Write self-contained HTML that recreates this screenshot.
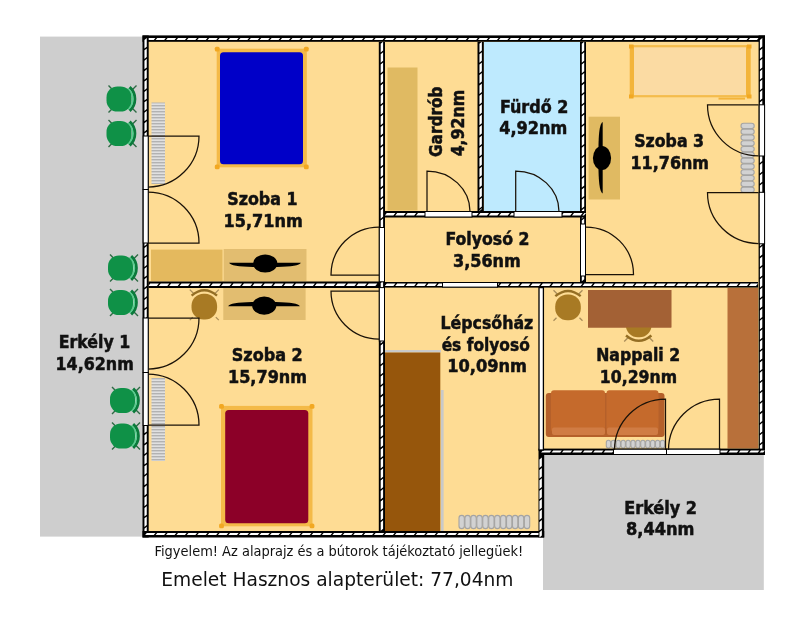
<!DOCTYPE html>
<html lang="hu"><head><meta charset="utf-8"><title>Emelet alaprajz</title>
<style>
html,body{margin:0;padding:0;background:#fff;}
body{width:800px;height:631px;overflow:hidden;}
svg{display:block;will-change:transform;}
.b{font-family:"DejaVu Sans Condensed","DejaVu Sans","Liberation Sans",sans-serif;font-weight:bold;font-size:17.9px;fill:#111;stroke:#111;stroke-width:0.5px;text-anchor:middle;}
.n{font-family:"DejaVu Sans Condensed","DejaVu Sans","Liberation Sans",sans-serif;fill:#111;}
.n2{font-family:"DejaVu Sans","Liberation Sans",sans-serif;fill:#111;}
.d{fill:none;stroke:#1a1208;stroke-width:1.25;}
</style></head><body>
<svg width="800" height="631" viewBox="0 0 800 631">
<defs>

<pattern id="rs" width="14" height="3" patternUnits="userSpaceOnUse"><rect width="14" height="3" fill="#e0e0e0"/><rect y="0" width="14" height="1.4" fill="#b2b2b2"/></pattern>
<g id="chair"><path d="M-10.5 -13.5 l3.2 3.2 M-10.5 13.5 l3.2 -3.2 M17.5 -13.5 l-4.5 4.5 M17.5 13.5 l-4.5 -4.5" stroke="#2f6a45" stroke-width="1.4" fill="none"/><path d="M10.6 -11.8 A15.9 15.9 0 0 1 10.6 11.8" stroke="#0b7a3b" stroke-width="3" fill="none"/><path d="M9 -10.5 A13.8 13.8 0 0 1 9 10.5" stroke="#56cf8e" stroke-width="1.6" fill="none"/><rect x="-12.5" y="-12.6" width="25" height="25.2" rx="11" fill="#0f9147"/></g>
<g id="bchair"><path d="M-14.5 -17 l4 4 M14.5 -17 l-4 4 M-11.5 10.5 l-3 3 M11.5 10.5 l3 3" stroke="#a98d5a" stroke-width="1.3" fill="none"/><path d="M-12.7 -11 Q0 -21.5 12.7 -11" stroke="#946e24" stroke-width="2.4" fill="none"/><rect x="-12.8" y="-12.8" width="25.6" height="25.8" rx="12" fill="#a87a24"/></g>
<g id="tv"><path d="M-35.8 -0.7 L35.8 -0.7 Q34 3.2 12 3.5 L-12 3.5 Q-34 3.2 -35.8 -0.7Z" fill="#000"/><ellipse cx="0.2" cy="0" rx="12.1" ry="9.1" fill="#000"/></g>
</defs>
<rect width="800" height="631" fill="#fff"/>
<rect x="40" y="36.6" width="104" height="500" fill="#CECECE"/>
<rect x="543" y="454" width="220.8" height="136" fill="#CECECE"/>
<rect x="146" y="39" width="615" height="413" fill="#FEDC94"/>
<rect x="146" y="440" width="395" height="94" fill="#FEDC94"/>
<rect x="484" y="42" width="96" height="169" fill="#BEEAFE"/>
<rect x="151.5" y="102.5" width="13.5" height="81.5" fill="url(#rs)" />
<rect x="151.5" y="378" width="13.5" height="83" fill="url(#rs)" />
<rect x="151" y="249.6" width="71.5" height="31.4" fill="#E4B95E" />
<rect x="223.7" y="249" width="82.8" height="32" fill="#E2BD70" />
<rect x="223.3" y="288" width="82.3" height="32" fill="#E2BD70" />
<rect x="387.5" y="67.5" width="30.0" height="143.0" fill="#E0BA62" />
<rect x="588.6" y="116.7" width="31.4" height="82.8" fill="#E0BA62" />
<use href="#tv" x="0" y="0" transform="translate(265 263.5)"/>
<use href="#tv" transform="translate(264 305.6) scale(1 -1)"/>
<use href="#tv" transform="translate(602 157.8) rotate(90)"/>
<rect x="216.7" y="48.7" width="90.1" height="118.6" fill="#F4BA48"/>
<rect x="214.8" y="46.8" width="4.8" height="4.8" rx="1.5" fill="#F2A822"/>
<rect x="303.9" y="46.8" width="4.8" height="4.8" rx="1.5" fill="#F2A822"/>
<rect x="214.8" y="164.4" width="4.8" height="4.8" rx="1.5" fill="#F2A822"/>
<rect x="303.9" y="164.4" width="4.8" height="4.8" rx="1.5" fill="#F2A822"/>
<rect x="220" y="52.2" width="83" height="112.1" rx="3.5" fill="#0000C8"/>
<rect x="221.0" y="405.9" width="91.5" height="120.4" fill="#F4BA48"/>
<rect x="219.1" y="404.0" width="4.8" height="4.8" rx="1.5" fill="#F2A822"/>
<rect x="309.6" y="404.0" width="4.8" height="4.8" rx="1.5" fill="#F2A822"/>
<rect x="219.1" y="523.4" width="4.8" height="4.8" rx="1.5" fill="#F2A822"/>
<rect x="309.6" y="523.4" width="4.8" height="4.8" rx="1.5" fill="#F2A822"/>
<rect x="225.2" y="410" width="83.1" height="113.2" rx="3.5" fill="#8C0028"/>
<rect x="631" y="46.2" width="118.5" height="50" fill="#FBDBA3" stroke="#F4BC4C" stroke-width="2.2"/>
<rect x="629.8" y="45.2" width="4.2" height="52" fill="#F3B43A"/><rect x="746" y="45.2" width="4.4" height="52" fill="#F3B43A"/>
<rect x="629" y="44.5" width="4.5" height="4" fill="#F2A822"/><rect x="747" y="44.5" width="4.5" height="4" fill="#F2A822"/><rect x="629" y="94.5" width="4.5" height="4" fill="#F2A822"/><rect x="747" y="94.5" width="4.5" height="4" fill="#F2A822"/>
<rect x="718.5" y="97.6" width="26.5" height="2" fill="#F3B43A"/>
<rect x="385" y="350" width="56" height="2.5" fill="#C9C9C9" />
<rect x="441" y="390" width="2.6" height="141" fill="#C9C9C9" />
<rect x="385" y="352.5" width="55.3" height="178.5" fill="#96560C" />
<rect x="588" y="290" width="83.3" height="37.5" fill="#A36135" />
<rect x="727.5" y="288" width="30.5" height="160.5" fill="#B8703A" />
<use href="#bchair" transform="translate(568 307.2)"/>
<use href="#bchair" transform="translate(638.7 324.5) rotate(180)"/>
<rect x="588" y="290" width="83.3" height="37.5" fill="#A36135" />
<use href="#bchair" transform="translate(204.3 306.6)"/>
<g><rect x="545.8" y="393" width="118.7" height="44" rx="3" fill="#B5602A"/><rect x="551" y="390.3" width="54" height="42" rx="3" fill="#C56A2C"/><rect x="606.5" y="390.3" width="52" height="42" rx="3" fill="#C56A2C"/><rect x="552" y="427.5" width="53" height="7.5" rx="2" fill="#D07C44"/><rect x="607" y="427.5" width="51" height="7.5" rx="2" fill="#D07C44"/></g>
<g fill="#d2d2d2" stroke="#a4a4a4" stroke-width="1.1"><rect x="459.0" y="515.4" width="5.34" height="13.200000000000045" rx="2.67"/><rect x="464.94" y="515.4" width="5.34" height="13.200000000000045" rx="2.67"/><rect x="470.88" y="515.4" width="5.34" height="13.200000000000045" rx="2.67"/><rect x="476.82" y="515.4" width="5.34" height="13.200000000000045" rx="2.67"/><rect x="482.77" y="515.4" width="5.34" height="13.200000000000045" rx="2.67"/><rect x="488.71" y="515.4" width="5.34" height="13.200000000000045" rx="2.67"/><rect x="494.65" y="515.4" width="5.34" height="13.200000000000045" rx="2.67"/><rect x="500.59" y="515.4" width="5.34" height="13.200000000000045" rx="2.67"/><rect x="506.53" y="515.4" width="5.34" height="13.200000000000045" rx="2.67"/><rect x="512.47" y="515.4" width="5.34" height="13.200000000000045" rx="2.67"/><rect x="518.42" y="515.4" width="5.34" height="13.200000000000045" rx="2.67"/><rect x="524.36" y="515.4" width="5.34" height="13.200000000000045" rx="2.67"/></g>
<g fill="#d2d2d2" stroke="#a4a4a4" stroke-width="1.1"><rect x="606.3" y="440.3" width="4.32" height="7.699999999999989" rx="2.16"/><rect x="611.22" y="440.3" width="4.32" height="7.699999999999989" rx="2.16"/><rect x="616.13" y="440.3" width="4.32" height="7.699999999999989" rx="2.16"/><rect x="621.05" y="440.3" width="4.32" height="7.699999999999989" rx="2.16"/><rect x="625.97" y="440.3" width="4.32" height="7.699999999999989" rx="2.16"/><rect x="630.88" y="440.3" width="4.32" height="7.699999999999989" rx="2.16"/><rect x="635.8" y="440.3" width="4.32" height="7.699999999999989" rx="2.16"/><rect x="640.72" y="440.3" width="4.32" height="7.699999999999989" rx="2.16"/><rect x="645.63" y="440.3" width="4.32" height="7.699999999999989" rx="2.16"/><rect x="650.55" y="440.3" width="4.32" height="7.699999999999989" rx="2.16"/><rect x="655.47" y="440.3" width="4.32" height="7.699999999999989" rx="2.16"/><rect x="660.38" y="440.3" width="4.32" height="7.699999999999989" rx="2.16"/></g>
<g fill="#d2d2d2" stroke="#a4a4a4" stroke-width="1.1"><rect x="741" y="123.3" width="13.200000000000045" height="5.2" rx="2.6"/><rect x="741" y="129.1" width="13.200000000000045" height="5.2" rx="2.6"/><rect x="741" y="134.9" width="13.200000000000045" height="5.2" rx="2.6"/><rect x="741" y="140.7" width="13.200000000000045" height="5.2" rx="2.6"/><rect x="741" y="146.5" width="13.200000000000045" height="5.2" rx="2.6"/><rect x="741" y="152.3" width="13.200000000000045" height="5.2" rx="2.6"/><rect x="741" y="158.1" width="13.200000000000045" height="5.2" rx="2.6"/><rect x="741" y="163.9" width="13.200000000000045" height="5.2" rx="2.6"/><rect x="741" y="169.7" width="13.200000000000045" height="5.2" rx="2.6"/><rect x="741" y="175.5" width="13.200000000000045" height="5.2" rx="2.6"/><rect x="741" y="181.3" width="13.200000000000045" height="5.2" rx="2.6"/><rect x="741" y="187.1" width="13.200000000000045" height="5.2" rx="2.6"/></g>
<use href="#chair" transform="translate(119 99)"/>
<use href="#chair" transform="translate(119 133.5)"/>
<use href="#chair" transform="translate(120.5 268)"/>
<use href="#chair" transform="translate(120.5 302.5)"/>
<use href="#chair" transform="translate(122.5 400.5)"/>
<use href="#chair" transform="translate(122.5 436)"/>
<rect x="378.8" y="42" width="6.2" height="489" fill="#000"/>
<path transform="translate(381.9 0) skewY(-40) translate(-381.9 0)" d="M381.9 42.8 V530" stroke="#fff" stroke-width="2.4" stroke-dasharray="8.6 1.8" fill="none"/>
<rect x="477.5" y="42" width="6.3" height="169" fill="#000"/>
<path transform="translate(480.65 0) skewY(-40) translate(-480.65 0)" d="M480.65 42.8 V210" stroke="#fff" stroke-width="2.4" stroke-dasharray="8.6 1.8" fill="none"/>
<rect x="580" y="42" width="6" height="240" fill="#000"/>
<path transform="translate(583.0 0) skewY(-40) translate(-583.0 0)" d="M583.0 42.8 V281" stroke="#fff" stroke-width="2.4" stroke-dasharray="8.6 1.8" fill="none"/>
<rect x="148.5" y="281.5" width="230.5" height="6.5" fill="#000"/>
<path transform="translate(0 284.75) skewX(-40) translate(0 -284.75)" d="M149.3 284.75 H378" stroke="#fff" stroke-width="2.4" stroke-dasharray="8.6 1.8" fill="none"/>
<rect x="385" y="211" width="201" height="6.5" fill="#000"/>
<path transform="translate(0 214.25) skewX(-40) translate(0 -214.25)" d="M385.8 214.25 H585" stroke="#fff" stroke-width="2.4" stroke-dasharray="8.6 1.8" fill="none"/>
<rect x="385" y="282" width="373" height="5.6" fill="#000"/>
<path transform="translate(0 284.8) skewX(-40) translate(0 -284.8)" d="M385.8 284.8 H757" stroke="#fff" stroke-width="2.4" stroke-dasharray="8.6 1.8" fill="none"/>
<rect x="142.5" y="35.4" width="622.5" height="6.4" fill="#000"/>
<path transform="translate(0 39.05) skewX(-40) translate(0 -39.05)" d="M146.0 39.05 H764" stroke="#fff" stroke-width="2.0" stroke-dasharray="8.6 1.8" fill="none"/>
<rect x="142.5" y="35.5" width="6.2" height="502.0" fill="#000"/>
<path transform="translate(145.6 0) skewY(-40) translate(-145.6 0)" d="M145.6 39.0 V536.5" stroke="#fff" stroke-width="2.3" stroke-dasharray="8.6 1.8" fill="none"/>
<rect x="142.5" y="531" width="401.7" height="6.5" fill="#000"/>
<path transform="translate(0 533.95) skewX(-40) translate(0 -533.95)" d="M146.0 533.95 H543.2" stroke="#fff" stroke-width="2.0" stroke-dasharray="8.6 1.8" fill="none"/>
<rect x="758.6" y="35.5" width="6.4" height="419.5" fill="#000"/>
<path transform="translate(761.1 0) skewY(-40) translate(-761.1 0)" d="M761.1 39.0 V454" stroke="#fff" stroke-width="2.4" stroke-dasharray="8.6 1.8" fill="none"/>
<rect x="538.5" y="448.6" width="226.5" height="6.4" fill="#000"/>
<path transform="translate(0 451.5) skewX(-40) translate(0 -451.5)" d="M542.0 451.5 H764" stroke="#fff" stroke-width="2.0" stroke-dasharray="8.6 1.8" fill="none"/>
<rect x="538.5" y="455" width="5.7" height="82.5" fill="#000"/>
<path transform="translate(540.65 0) skewY(-40) translate(-540.65 0)" d="M540.65 458.5 V536.5" stroke="#fff" stroke-width="2.4" stroke-dasharray="8.6 1.8" fill="none"/>
<rect x="539" y="287.6" width="4.4" height="162.4" fill="#fff" stroke="#000" stroke-width="1.3"/>
<rect x="143.2" y="136" width="5.0" height="53.5" fill="#fff" stroke="#000" stroke-width="1"/>
<rect x="143.2" y="189.5" width="5.0" height="53.5" fill="#fff" stroke="#000" stroke-width="1"/>
<rect x="143.2" y="318" width="5.0" height="54.5" fill="#fff" stroke="#000" stroke-width="1"/>
<rect x="143.2" y="372.5" width="5.0" height="53.0" fill="#fff" stroke="#000" stroke-width="1"/>
<rect x="759.2" y="104.8" width="5.4" height="51.2" fill="#fff" stroke="#000" stroke-width="1"/>
<rect x="759.2" y="192.3" width="5.4" height="51.5" fill="#fff" stroke="#000" stroke-width="1"/>
<rect x="613.5" y="449.2" width="53.0" height="5.3" fill="#fff" stroke="#000" stroke-width="1"/>
<rect x="666.5" y="449.2" width="53.5" height="5.3" fill="#fff" stroke="#000" stroke-width="1"/>
<rect x="425" y="211.5" width="47" height="5.5" fill="#fff" stroke="#000" stroke-width="1"/>
<rect x="514" y="211.5" width="48" height="5.5" fill="#fff" stroke="#000" stroke-width="1"/>
<rect x="442.5" y="282.5" width="55.0" height="4.6" fill="#fff" stroke="#000" stroke-width="1"/>
<rect x="379.3" y="227.5" width="5.2" height="54.3" fill="#fff" stroke="#000" stroke-width="1"/>
<rect x="379.3" y="287.6" width="5.2" height="53.4" fill="#fff" stroke="#000" stroke-width="1"/>
<rect x="580.5" y="224" width="5.0" height="52" fill="#fff" stroke="#000" stroke-width="1"/>
<path class="d" d="M148 136 L199 136 A51.0 51.0 0 0 1 148 187"/>
<path class="d" d="M148 243 L199 243 A51.0 51.0 0 0 0 148 192"/>
<path class="d" d="M148 318 L199 318 A51.0 51.0 0 0 1 148 369"/>
<path class="d" d="M148 425 L199 425 A51.0 51.0 0 0 0 148 374"/>
<path class="d" d="M758.5 104.8 L707.5 104.8 A51.0 51.0 0 0 0 758.5 155.8"/>
<path class="d" d="M758.5 192.5 L707.5 192.5 A51.0 51.0 0 0 0 758.5 243.5"/>
<path class="d" d="M665.5 450 L665.5 399 A51.0 51.0 0 0 0 614.5 450"/>
<path class="d" d="M719.5 450 L719.5 399 A51.0 51.0 0 0 0 668.5 450"/>
<path class="d" d="M427 211.5 V171 A43 40.5 0 0 1 470 211.5"/>
<path class="d" d="M515.7 211.5 V171 A43.3 40.5 0 0 1 559 211.5"/>
<path class="d" d="M379 275 L331 275 A48.0 48.0 0 0 1 379 227"/>
<path class="d" d="M379 291 L331 291 A48.0 48.0 0 0 0 379 339"/>
<path class="d" d="M586 274.5 L633.5 274.5 A47.5 47.5 0 0 0 586 227"/>
<text class="b" x="262.38" y="205.1" textLength="70.25" lengthAdjust="spacingAndGlyphs">Szoba 1</text>
<text class="b" x="263.12" y="226.6" textLength="79.25" lengthAdjust="spacingAndGlyphs">15,71nm</text>
<text class="b" x="267.25" y="360.6" textLength="71.0" lengthAdjust="spacingAndGlyphs">Szoba 2</text>
<text class="b" x="267.5" y="382.6" textLength="79.0" lengthAdjust="spacingAndGlyphs">15,79nm</text>
<text class="b" x="669.12" y="146.6" textLength="69.75" lengthAdjust="spacingAndGlyphs">Szoba 3</text>
<text class="b" x="669.75" y="169.3" textLength="78.5" lengthAdjust="spacingAndGlyphs">11,76nm</text>
<text class="b" x="534.15" y="112.6" textLength="68.4" lengthAdjust="spacingAndGlyphs">Fürdő 2</text>
<text class="b" x="533.25" y="134.4" textLength="68.0" lengthAdjust="spacingAndGlyphs">4,92nm</text>
<text class="b" x="487.5" y="245.1" textLength="84.0" lengthAdjust="spacingAndGlyphs">Folyosó 2</text>
<text class="b" x="486.88" y="266.6" textLength="67.75" lengthAdjust="spacingAndGlyphs">3,56nm</text>
<text class="b" x="638.15" y="360.9" textLength="84.0" lengthAdjust="spacingAndGlyphs">Nappali 2</text>
<text class="b" x="638.42" y="382.5" textLength="77.15" lengthAdjust="spacingAndGlyphs">10,29nm</text>
<text class="b" x="94.5" y="348.1" textLength="71.5" lengthAdjust="spacingAndGlyphs">Erkély 1</text>
<text class="b" x="94.62" y="369.6" textLength="78.25" lengthAdjust="spacingAndGlyphs">14,62nm</text>
<text class="b" x="660.62" y="513.6" textLength="72.75" lengthAdjust="spacingAndGlyphs">Erkély 2</text>
<text class="b" x="660.25" y="535.3" textLength="68.5" lengthAdjust="spacingAndGlyphs">8,44nm</text>
<text class="b" x="486.88" y="328.6" textLength="92.75" lengthAdjust="spacingAndGlyphs">Lépcsőház</text>
<text class="b" x="485.7" y="350.6" textLength="88.1" lengthAdjust="spacingAndGlyphs">és folyosó</text>
<text class="b" x="487.12" y="371.6" textLength="79.75" lengthAdjust="spacingAndGlyphs">10,09nm</text>
<text class="b" transform="translate(442 121.7) rotate(-90)" textLength="70.5" lengthAdjust="spacingAndGlyphs">Gardrób</text>
<text class="b" transform="translate(463.5 123.1) rotate(-90)" textLength="66.5" lengthAdjust="spacingAndGlyphs">4,92nm</text>
<text class="n" x="154.6" y="555.6" font-size="14.3px" textLength="368.6" lengthAdjust="spacingAndGlyphs">Figyelem! Az alaprajz és a bútorok tájékoztató jellegüek!</text>
<text class="n" x="161.3" y="586.1" font-size="20.2px" textLength="352.2" lengthAdjust="spacingAndGlyphs">Emelet Hasznos alapterület: 77,04nm</text>
</svg></body></html>
